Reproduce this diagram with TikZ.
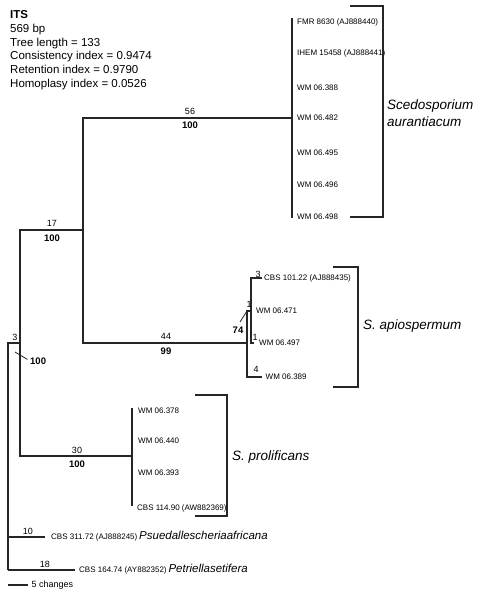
\documentclass[tikz,border=0pt]{standalone}
\usepackage{fontspec}
\setmainfont{Liberation Sans}
\usetikzlibrary{positioning}

\begin{document}
\begin{tikzpicture}[x=1pt,y=-1pt]

\useasboundingbox (0,0) rectangle (480,594);

\tikzstyle{branch}=[draw=black!85,line width=1.1pt]
\tikzstyle{slash}=[draw=black!85,line width=0.8pt]
\tikzstyle{bracket}=[draw=black!85,line width=1.1pt]
\tikzstyle{taxon}=[inner sep=0pt,anchor=west,font=\fontsize{8}{9}\selectfont,text height=5.8pt,text depth=0pt]
\tikzstyle{changes}=[inner sep=0pt,font=\fontsize{9}{10}\selectfont]
\tikzstyle{support}=[inner sep=0pt,font=\fontsize{9.5}{10}\selectfont\bfseries]
\tikzstyle{species}=[inner sep=0pt,anchor=west,font=\fontsize{13.5}{17}\selectfont\itshape]
\tikzstyle{outgroup}=[inner sep=0pt,font=\fontsize{11.5}{13}\selectfont\itshape]

%Header
\node[anchor=north west,align=left,inner sep=0pt,font=\fontsize{11.5}{13.9}\selectfont] (info) at (10,10) {\textbf{ITS}\\569 bp\\Tree length = 133\\Consistency index = 0.9474\\Retention index = 0.9790\\Homoplasy index = 0.0526};

%Tree nodes
\coordinate (root) at (8,570);
\coordinate (nIn) at (20,343);
\coordinate (nSce) at (83,230);
\coordinate (nAur) at (292,118);
\coordinate (nApi) at (247,343);
\coordinate (nApi2) at (251,311);
\coordinate (nPro) at (132,456);

\coordinate (aurTop) at (292,18);
\coordinate (aurBot) at (292,218);
\coordinate (proTop) at (132,408);
\coordinate (proBot) at (132,506);
\coordinate (api101Tip) at (262,278);
\coordinate (api497Tip) at (254,343);
\coordinate (api389Tip) at (262,377);
\coordinate (afrTip) at (45,537);
\coordinate (setTip) at (75,570);

\draw[branch] (root) |- (nIn);
\draw[branch] (root) -- (setTip);
\draw[branch] (root |- afrTip) -- (afrTip);
\draw[branch] (nSce) -| (nIn) |- (nPro);
\draw[branch] (nAur) -| (nSce) |- (nApi);
\draw[branch] (nApi2) -| (nApi) |- (api389Tip);
\draw[branch] (api101Tip) -| (nApi2) |- (api497Tip);
\draw[branch] (aurTop) -- (aurBot);
\draw[branch] (proTop) -- (proBot);

%Scedosporium aurantiacum
\node[taxon] (aur8630) at (297,22) {FMR 8630 (AJ888440)};
\node[taxon] (aur15458) at (297,53) {IHEM 15458 (AJ888441)};
\node[taxon] (aur388) at (297,88) {WM 06.388};
\node[taxon] (aur482) at (297,118) {WM 06.482};
\node[taxon] (aur495) at (297,153) {WM 06.495};
\node[taxon] (aur496) at (297,185) {WM 06.496};
\node[taxon] (aur498) at (297,217) {WM 06.498};
\draw[bracket] (350,6) -| (383,217) -- (350,217);
\node[species,align=left] (aurName) at (387,113) {Scedosporium\\aurantiacum};

%S. apiospermum
\node[taxon,right=2pt of api101Tip] (api101) {CBS 101.22 (AJ888435)};
\node[taxon] (api471) at (256,311) {WM 06.471};
\node[taxon,right=5pt of api497Tip] (api497) {WM 06.497};
\node[taxon,right=3.5pt of api389Tip] (api389) {WM 06.389};
\draw[bracket] (333,267) -| (358,387) -- (333,387);
\node[species] (apiName) at (363,326) {S. apiospermum};

%S. prolificans
\node[taxon] (pro378) at (138,411) {WM 06.378};
\node[taxon] (pro440) at (138,441) {WM 06.440};
\node[taxon] (pro393) at (138,473) {WM 06.393};
\node[taxon] (pro114) at (137,508) {CBS 114.90 (AW882369)};
\draw[bracket] (195,395) -| (227,516) -- (195,516);
\node[species] (proName) at (232,457) {S. prolificans};

%outgroups
\node[taxon,right=6pt of afrTip] (afr) {CBS 311.72 (AJ888245)};
\node[outgroup,base right=1.5pt of afr] (afrName) {Psuedallescheriaafricana};
\node[taxon,right=4pt of setTip] (set) {CBS 164.74 (AY882352)};
\node[outgroup,base right=1.5pt of set] (setName) {Petriellasetifera};

%branch lengths and bootstrap
\node[changes] (c56) at (190,111) {56};
\node[support] (s56) at (190,125) {100};
\node[changes] (c17) at (52,223) {17};
\node[support] (s17) at (52,238) {100};
\node[changes] (c44) at (166,336) {44};
\node[support] (s44) at (166,351) {99};
\node[changes] (c30) at (77,450) {30};
\node[support] (s30) at (77,464) {100};
\node[changes] (c3) at (15,337) {3};
\node[support,anchor=west] (sIn) at (30,361) {100};
\coordinate (slashIn) at (15,352);
\draw[slash,shorten >=3pt] (slashIn) -- (sIn.west);

\node[changes] (c101) at (258,274) {3};
\node[changes] (c471) at (249,304) {1};
\node[changes] (c497) at (255,337) {1};
\node[changes] (c389) at (256,369) {4};
\node[support] (s74) at (238,330) {74};
\coordinate (slash74) at (240,322);
\draw[slash] (slash74) -- (nApi2 -| nApi);

\node[changes] (c10) at (28,531) {10};
\node[changes] (c18) at (45,564) {18};

%scale
\coordinate (scaleL) at (8,585);
\coordinate (scaleR) at (28,585);
\draw[branch] (scaleL) -- (scaleR) node[changes,right=3pt] (scale) {5 changes};

\end{tikzpicture}
\end{document}
